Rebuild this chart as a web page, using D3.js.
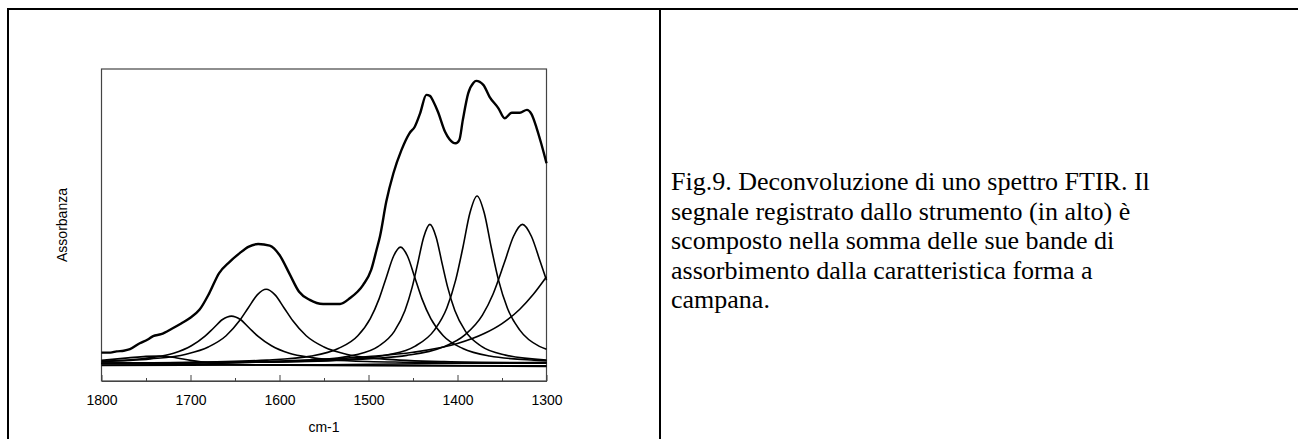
<!DOCTYPE html>
<html>
<head>
    <meta charset="utf-8">
    <title>Deconvoluzione FTIR</title>
    <script src="https://cdn.jsdelivr.net/npm/d3@7"></script>
    <style>
        body { margin: 0; background: #fff; }
        svg { display: block; }
    </style>
</head>
<body>
    <svg width="1299" height="439"></svg>
    <script>
        // spettro registrato (cm-1, assorbanza)
        const totalWn = [1800, 1790, 1783, 1775, 1768, 1757, 1748, 1742, 1733, 1720, 1710, 1701, 1690, 1679, 1668,
            1656, 1645, 1635, 1624, 1611, 1600, 1589, 1578, 1566, 1551, 1532, 1521, 1506, 1497, 1491, 1487, 1480,
            1472, 1463, 1454, 1448, 1442, 1435, 1431, 1427, 1422, 1414, 1409, 1402, 1398, 1394, 1388, 1382, 1379,
            1371, 1364, 1354, 1347, 1339, 1330, 1322, 1317, 1311, 1306, 1300]
        const totalAbs = [0.091, 0.091, 0.095, 0.097, 0.102, 0.121, 0.133, 0.144, 0.150, 0.169, 0.185, 0.201, 0.228,
            0.281, 0.345, 0.382, 0.409, 0.430, 0.439, 0.434, 0.404, 0.345, 0.286, 0.260, 0.247, 0.247, 0.265, 0.308,
            0.356, 0.420, 0.465, 0.575, 0.666, 0.740, 0.794, 0.815, 0.858, 0.917, 0.914, 0.895, 0.863, 0.799, 0.775,
            0.762, 0.772, 0.837, 0.922, 0.956, 0.962, 0.949, 0.911, 0.874, 0.842, 0.860, 0.860, 0.869, 0.856, 0.810,
            0.762, 0.698]

        // bande componenti [cm-1, assorbanza]
        const band1735 = [[1800, 0.066], [1770, 0.074], [1750, 0.079], [1735, 0.080], [1720, 0.076], [1700, 0.066],
            [1680, 0.058], [1650, 0.053], [1550, 0.050], [1300, 0.049]]
        const band1654 = [[1800, 0.063], [1744, 0.075], [1719, 0.089], [1699, 0.113], [1684, 0.143], [1674, 0.170],
            [1664, 0.197], [1654, 0.208], [1644, 0.197], [1634, 0.170], [1624, 0.143], [1609, 0.113], [1589, 0.089],
            [1564, 0.075], [1524, 0.065], [1454, 0.060], [1354, 0.057], [1300, 0.057]]
        const band1615 = [[1800, 0.063], [1745, 0.071], [1705, 0.086], [1680, 0.109], [1660, 0.145], [1645, 0.193],
            [1635, 0.235], [1625, 0.276], [1615, 0.294], [1605, 0.276], [1595, 0.235], [1585, 0.193], [1570, 0.145],
            [1550, 0.109], [1525, 0.086], [1485, 0.071], [1415, 0.062], [1300, 0.058]]
        const band1464 = [[1800, 0.057], [1714, 0.059], [1614, 0.067], [1564, 0.080], [1534, 0.104], [1512, 0.145],
            [1498, 0.200], [1488, 0.264], [1480, 0.332], [1472, 0.399], [1464, 0.429], [1456, 0.399], [1448, 0.332],
            [1440, 0.264], [1430, 0.200], [1416, 0.145], [1394, 0.104], [1364, 0.080], [1314, 0.067], [1300, 0.065]]
        const band1431 = [[1800, 0.057], [1651, 0.059], [1561, 0.067], [1516, 0.083], [1489, 0.111], [1471, 0.159],
            [1459, 0.226], [1451, 0.300], [1445, 0.373], [1438, 0.461], [1431, 0.502], [1424, 0.461], [1417, 0.373],
            [1411, 0.300], [1403, 0.226], [1391, 0.159], [1373, 0.111], [1346, 0.083], [1300, 0.067]]
        const band1378 = [[1800, 0.057], [1628, 0.060], [1528, 0.068], [1478, 0.084], [1448, 0.111], [1426, 0.163],
            [1412, 0.234], [1402, 0.324], [1394, 0.427], [1386, 0.539], [1378, 0.593], [1370, 0.539], [1362, 0.427],
            [1354, 0.324], [1344, 0.234], [1330, 0.163], [1308, 0.111], [1300, 0.102]]
        const band1327 = [[1800, 0.057], [1627, 0.060], [1527, 0.067], [1457, 0.082], [1417, 0.108], [1392, 0.147],
            [1372, 0.211], [1360, 0.279], [1347, 0.382], [1337, 0.464], [1327, 0.502], [1317, 0.464], [1307, 0.382],
            [1300, 0.323]]
        const band1255 = [[1800, 0.056], [1600, 0.064], [1500, 0.078], [1450, 0.092], [1400, 0.120], [1370, 0.152],
            [1350, 0.184], [1330, 0.230], [1315, 0.277], [1300, 0.334]]
        const bandLow1 = [[1800, 0.055], [1550, 0.051], [1300, 0.047]]
        const bandLow2 = [[1800, 0.050], [1550, 0.052], [1300, 0.060]]

        const xTicks = [1800, 1700, 1600, 1500, 1400, 1300]
        const xMinorTicks = [1750, 1650, 1550, 1450, 1350]

        const caption = [
            'Fig.9. Deconvoluzione di uno spettro FTIR. Il',
            'segnale registrato dallo strumento (in alto) è',
            'scomposto nella somma delle sue bande di',
            'assorbimento dalla caratteristica forma a',
            'campana.'
        ]

        const svg = d3.select('svg')
        const AXIS_COLOR = '#444'
        const FONT = "'Liberation Sans', Arial, sans-serif"

        // cornice tabella
        const table = svg.append('g').attr('stroke', '#000').attr('stroke-width', 2)
        table.append('line').attr('x1', 7).attr('x2', 1298).attr('y1', 9).attr('y2', 9)
        table.append('line').attr('x1', 8).attr('x2', 8).attr('y1', 8).attr('y2', 439)
        table.append('line').attr('x1', 660).attr('x2', 660).attr('y1', 8).attr('y2', 439)

        const plot = { left: 101.5, right: 546.5, top: 69, bottom: 381 }

        const x = d3.scaleLinear().domain([1800, 1300]).range([plot.left, plot.right])
        const y = d3.scaleLinear().domain([0, 1]).range([plot.bottom, plot.top])

        // riquadro
        svg.append('rect')
            .attr('x', plot.left).attr('y', plot.top)
            .attr('width', plot.right - plot.left).attr('height', plot.bottom - plot.top)
            .attr('fill', 'none').attr('stroke', AXIS_COLOR).attr('stroke-width', 1.2)

        const axis = svg.append('g')
            .attr('transform', `translate(0,${plot.bottom})`)
            .call(d3.axisBottom(x).tickValues(xTicks).tickFormat(d3.format('d')).tickSizeInner(-6).tickSizeOuter(0).tickPadding(14))
        axis.select('.domain').attr('stroke', AXIS_COLOR).attr('stroke-width', 1.2)
        axis.selectAll('.tick line').attr('stroke', AXIS_COLOR)
        axis.selectAll('.tick text').attr('font-family', FONT).attr('font-size', 14).attr('fill', '#000')

        const minor = svg.append('g')
            .attr('transform', `translate(0,${plot.bottom})`)
            .call(d3.axisBottom(x).tickValues(xMinorTicks).tickFormat('').tickSizeInner(-3).tickSizeOuter(0))
        minor.select('.domain').remove()
        minor.selectAll('.tick line').attr('stroke', AXIS_COLOR)

        svg.append('text')
            .attr('x', (plot.left + plot.right) / 2).attr('y', 432)
            .attr('text-anchor', 'middle')
            .attr('font-family', FONT).attr('font-size', 14)
            .text('cm-1')

        svg.append('text')
            .attr('transform', `translate(67,${(plot.top + plot.bottom) / 2}) rotate(-90)`)
            .attr('text-anchor', 'middle')
            .attr('font-family', FONT).attr('font-size', 14)
            .text('Assorbanza')

        const bands = [bandLow1, bandLow2, band1735, band1654, band1615, band1464, band1431, band1378, band1327, band1255]

        const bandLine = d3.line()
            .x(d => x(d[0]))
            .y(d => y(d[1]))
            .curve(d3.curveMonotoneX)

        svg.append('g').selectAll('path')
            .data(bands)
            .join('path')
            .attr('d', bandLine)
            .attr('fill', 'none')
            .attr('stroke', '#000')
            .attr('stroke-width', 1.6)

        const totalLine = d3.line()
            .x(i => x(totalWn[i]))
            .y(i => y(totalAbs[i]))
            .curve(d3.curveMonotoneX)

        svg.append('path')
            .datum(d3.range(totalWn.length))
            .attr('d', totalLine)
            .attr('fill', 'none')
            .attr('stroke', '#000')
            .attr('stroke-width', 2.4)
            .attr('stroke-linejoin', 'round')

        // didascalia
        svg.append('g').selectAll('text')
            .data(caption)
            .join('text')
            .attr('x', 671)
            .attr('y', (d, i) => 190 + i * 29.5)
            .attr('font-family', "'Liberation Serif', 'Times New Roman', serif")
            .attr('font-size', 26)
            .attr('fill', '#000')
            .text(d => d)
    </script>
</body>
</html>
